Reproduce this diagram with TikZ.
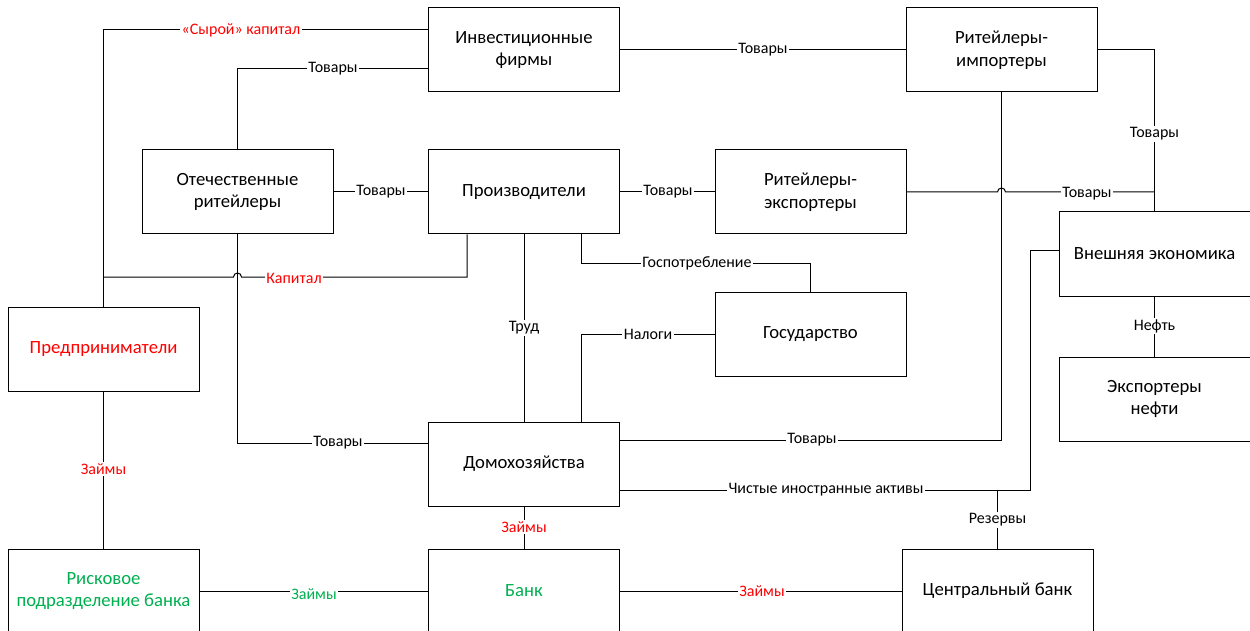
\documentclass[tikz,border=0pt]{standalone}
\usepackage{fontspec}
\setmainfont{Carlito}
\definecolor{lred}{HTML}{FF0000}
\definecolor{lgreen}{HTML}{00B050}
\begin{document}
\begin{tikzpicture}[x=0.75pt,y=-0.75pt,
  box/.style={draw,line width=0.75pt,fill=white,minimum width=143.25pt,minimum height=63pt,align=center,font=\fontsize{14}{17}\selectfont,inner sep=2pt},
  lbl/.style={fill=white,inner sep=1.2pt,font=\fontsize{12}{14}\selectfont},
  conn/.style={line width=0.75pt}]
\useasboundingbox (0,0) rectangle (1250,631);
\clip (0,0) rectangle (1250,631);
% boxes
\node[box] (inv) at (524,50) {Инвестиционные\\фирмы};
\node[box] (rimp) at (1001.5,50) {Ритейлеры-\\импортеры};
\node[box] (otech) at (237.5,192) {Отечественные\\ритейлеры};
\node[box] (proizv) at (524,192) {Производители};
\node[box] (rexp) at (810.5,192) {Ритейлеры-\\экспортеры};
\node[box] (vnesh) at (1154.5,254) {Внешняя экономика};
\node[box] (gos) at (810.5,334) {Государство};
\node[box,text=lred] (pred) at (103.5,349) {Предприниматели};
\node[box] (exneft) at (1154.5,399) {Экспортеры\\нефти};
\node[box] (dom) at (524,464) {Домохозяйства};
\node[box,text=lgreen] (risk) at (103.5,591) {Рисковое\\подразделение банка};
\node[box,text=lgreen] (bank) at (524,591) {Банк};
\node[box] (cb) at (997.5,591) {Центральный банк};
% helper coordinates
\coordinate (y30) at (0,30);
\coordinate (y69) at (0,69);
\coordinate (y443) at (0,443);
\coordinate (y440) at (0,440);
\coordinate (y490) at (0,490);
\coordinate (y251) at (0,251);
\coordinate (x467) at (467,0);
\coordinate (x581) at (581,0);
\coordinate (jx) at (1030,0);
\coordinate (gx) at (810.5,263);
\coordinate (kap) at (103.5,277);
\coordinate (tj) at (1154.5,192);
% connectors
\draw[conn] (pred.north) |- (inv.west|-y30);
\draw[conn] (otech.north) |- (inv.west|-y69);
\draw[conn] (inv.east) -- (rimp.west);
\draw[conn] (otech.east) -- (proizv.west);
\draw[conn] (proizv.east) -- (rexp.west);
\draw[conn] (rexp.east) -- (997.5,192) arc[start angle=180,end angle=360,radius=4] -- (tj);
\draw[conn] (rimp.east) -| (vnesh.north);
\draw[conn] (proizv.south-|x467) -- (467,277) -- (241.5,277) arc[start angle=360,end angle=180,radius=4] -- (kap);
\draw[conn] (otech.south) |- (dom.west|-y443);
\draw[conn] (proizv.south-|x581) |- (gx) -- (gos.north);
\draw[conn] (proizv.south) -- (dom.north);
\draw[conn] (dom.north-|x581) |- (gos.west);
\draw[conn] (dom.east|-y440) -| (rimp.south);
\draw[conn] (dom.east|-y490) -| (jx|-y251) -- (vnesh.west|-y251);
\draw[conn] (cb.north) -- (cb.north|-y490);
\draw[conn] (vnesh.south) -- (exneft.north);
\draw[conn] (pred.south) -- (risk.north);
\draw[conn] (dom.south) -- (bank.north);
\draw[conn] (risk.east) -- (bank.west);
\draw[conn] (bank.east) -- (cb.west);
% labels
\node[lbl,text=lred] (l1) at (241,30) {«Сырой» капитал};
\node[lbl] (l2) at (333,69) {Товары};
\node[lbl] (l3) at (763,50) {Товары};
\node[lbl] (l4) at (381,192) {Товары};
\node[lbl] (l5) at (668,192) {Товары};
\node[lbl] (l6) at (1087,194) {Товары};
\node[lbl] (l7) at (1154.5,134) {Товары};
\node[lbl,text=lred] (l8) at (294,278) {Капитал};
\node[lbl] (l9) at (338,443) {Товары};
\node[lbl] (l10) at (697,263) {Госпотребление};
\node[lbl] (l11) at (524,328) {Труд};
\node[lbl] (l12) at (648,334) {Налоги};
\node[lbl] (l13) at (812,440) {Товары};
\node[lbl] (l14) at (826,490) {Чистые иностранные активы};
\node[lbl] (l15) at (997.5,520) {Резервы};
\node[lbl] (l16) at (1154.5,326) {Нефть};
\node[lbl,text=lred] (l17) at (103.5,469) {Займы};
\node[lbl,text=lred] (l18) at (524,527) {Займы};
\node[lbl,text=lgreen] (l19) at (314,594) {Займы};
\node[lbl,text=lred] (l20) at (762,591) {Займы};
\end{tikzpicture}
\end{document}
